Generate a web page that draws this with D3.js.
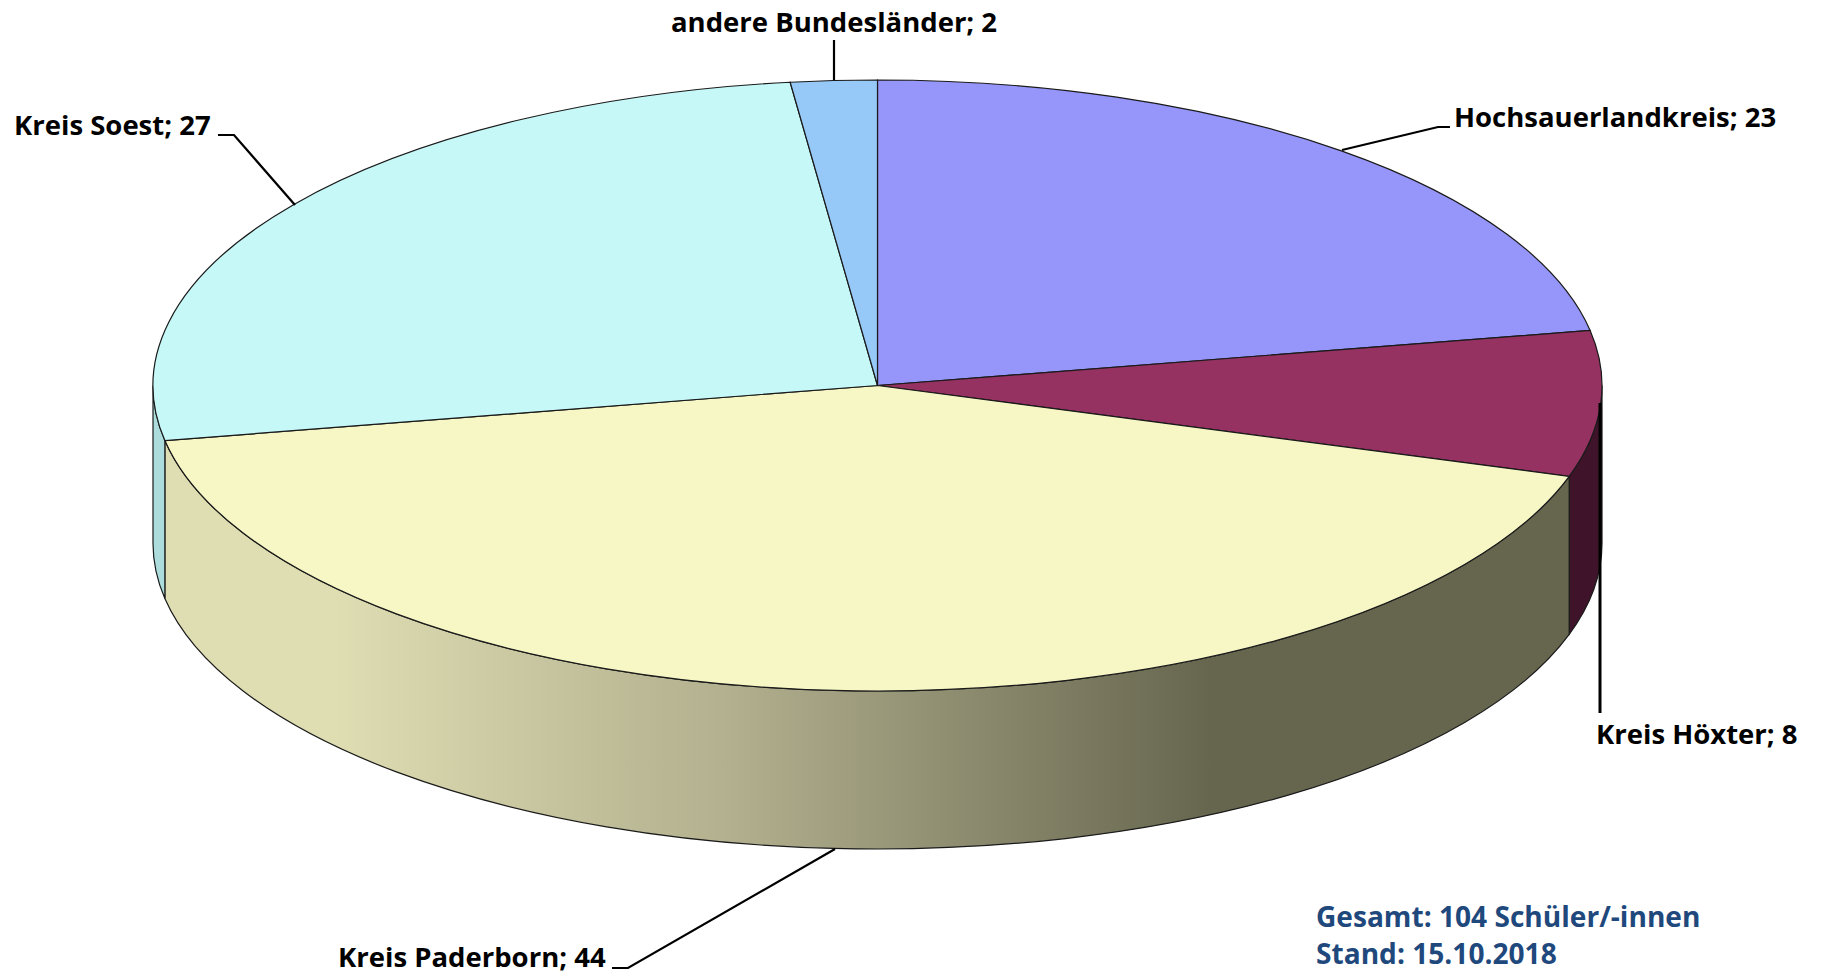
<!DOCTYPE html>
<html>
<head>
<meta charset="utf-8">
<script src="https://cdn.jsdelivr.net/npm/d3@7"></script>
<style>
  html, body { margin: 0; background: #fff; }
  svg { display: block; }
  text { font-family: "Open Sans", "Noto Sans", sans-serif; font-weight: 700; }
</style>
</head>
<body>
<script>
(function (d3) {
  "use strict";

  /***** Data *****/
  var categories = ["Hochsauerlandkreis", "Kreis Höxter", "Kreis Paderborn", "Kreis Soest", "andere Bundesländer"];
  var values = [23, 8, 44, 27, 2];
  var notes = ["Gesamt: 104 Schüler/-innen", "Stand: 15.10.2018"];

  /***** Configuration *****/
  var width = 1824, height = 976;
  var cx = 877.5, cy = 385.5, rx = 724.5, ry = 305.5, depth = 158;

  var topColors = ["#9696fa", "#953262", "#f7f7c6", "#c6f8f8", "#96c8f8"];
  var sideColors = ["#5a5a96", "#3f142a", "url(#wallGrad)", "#acdcdc", "#6a8eb0"];

  // label placement: [anchor x, baseline y] and leader line points
  var labelPos = [[1454, 127], [1596, 744], [338, 967], [14, 135], [671, 32]];
  var leaders = [
    [[1342, 150], [1438, 127], [1450, 127]],
    [[1600, 403], [1600, 713]],
    [[835, 849], [628, 968], [612, 968]],
    [[295, 205], [234, 135], [218, 135]],
    [[834, 80], [834, 40]]
  ];
  var leaderWidths = [2.2, 3, 2.2, 2.2, 2.2];

  var svg = d3.select("body").append("svg")
    .attr("width", width)
    .attr("height", height);

  // side of the Paderborn slice goes from light to dark, flat after x=1210
  var grad = svg.append("defs").append("linearGradient")
    .attr("id", "wallGrad")
    .attr("gradientUnits", "userSpaceOnUse")
    .attr("x1", 165).attr("x2", 1570).attr("y1", 0).attr("y2", 0);
  [[0, "#dfddb2"], [0.12, "#dfddb2"], [0.4, "#b2b08e"], [0.745, "#66664f"], [1, "#66664f"]].forEach(function (s) {
    grad.append("stop").attr("offset", s[0]).attr("stop-color", s[1]);
  });

  /***** Layout *****/
  var pie = d3.pie().sort(null).value(function (d) { return d; });
  var arcs = pie(values);

  function px(a) { return cx + rx * Math.sin(a); }
  function py(a, dy) { return cy - ry * Math.cos(a) + (dy || 0); }

  function ellipseArc(a0, a1, dy, sweep) {
    var large = Math.abs(a1 - a0) > Math.PI ? 1 : 0;
    return "A" + rx + "," + ry + " 0 " + large + "," + sweep + " " + px(a1) + "," + py(a1, dy);
  }

  function topPath(d) {
    return "M" + cx + "," + cy +
      "L" + px(d.startAngle) + "," + py(d.startAngle) +
      ellipseArc(d.startAngle, d.endAngle, 0, 1) + "Z";
  }

  // only the front half of the rim can be seen (pi/2 to 3pi/2)
  function wallPath(d) {
    var a0 = Math.max(d.startAngle, Math.PI / 2);
    var a1 = Math.min(d.endAngle, 3 * Math.PI / 2);
    if (a1 <= a0) return null;
    return "M" + px(a0) + "," + py(a0) +
      ellipseArc(a0, a1, 0, 1) +
      "L" + px(a1) + "," + py(a1, depth) +
      ellipseArc(a1, a0, depth, 0) + "Z";
  }

  /***** Drawing *****/
  svg.append("g").selectAll("path")
    .data(arcs.filter(function (d) { return wallPath(d) !== null; }))
    .join("path")
    .attr("d", wallPath)
    .attr("fill", function (d) { return sideColors[d.index]; })
    .attr("stroke", "#1a1a1a")
    .attr("stroke-width", 1.2);

  svg.append("g").selectAll("path")
    .data(arcs)
    .join("path")
    .attr("d", topPath)
    .attr("fill", function (d) { return topColors[d.index]; })
    .attr("stroke", "#1a1a1a")
    .attr("stroke-width", 1.2);

  var line = d3.line();
  svg.append("g").selectAll("path")
    .data(leaders)
    .join("path")
    .attr("d", line)
    .attr("fill", "none")
    .attr("stroke", "#000")
    .attr("stroke-width", function (d, i) { return leaderWidths[i]; });

  svg.append("g").selectAll("text")
    .data(categories)
    .join("text")
    .attr("x", function (d, i) { return labelPos[i][0]; })
    .attr("y", function (d, i) { return labelPos[i][1]; })
    .attr("font-size", 27.5)
    .attr("fill", "#000")
    .text(function (d, i) { return d + "; " + values[i]; });

  svg.append("g").selectAll("text")
    .data(notes)
    .join("text")
    .attr("x", 1316)
    .attr("y", function (d, i) { return 927 + i * 37; })
    .attr("font-size", 28.1)
    .attr("fill", "#1f497d")
    .text(function (d) { return d; });

})(d3);
</script>
</body>
</html>
